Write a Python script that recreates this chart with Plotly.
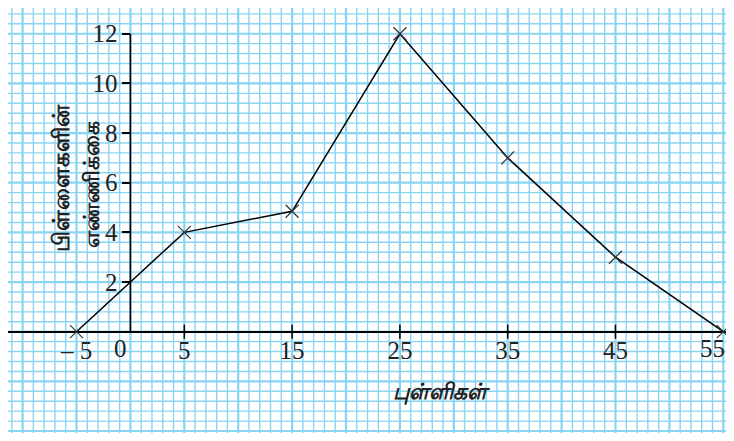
import numpy as np
import plotly.graph_objects as go

# Data
marks = [-5, 5, 15, 25, 35, 45, 55]
children = [0, 4, 4.85, 12, 7, 3, 0]
x_tick_vals = [-5, 5, 15, 25, 35, 45, 55]
x_tick_text = ["\u2013 5", "5", "15", "25", "35", "45", "55"]
y_tick_vals = [2, 4, 6, 8, 10, 12]
y_tick_text = ["2", "4", "6", "8", "10", "12"]
x_title = "புள்ளிகள்"
y_title_1 = "பிள்ளைகளின்"
y_title_2 = "எண்ணிக்கை"

# page has an 8px body margin: figure pixel = screen pixel - 8
OFF = 8
W, H = 734 - OFF, 441 - 2 * OFF
X0PX, XSCALE = 130.4, 10.78   # screen px of x=0, px per unit
Y0PX, YSCALE = 331.7, 24.83   # screen px of y=0, px per unit
x_range = [(OFF - X0PX) / XSCALE, (OFF + W - X0PX) / XSCALE]
y_range = [(Y0PX - (OFF + H)) / YSCALE, (Y0PX - OFF) / YSCALE]


def px(sx):
    return (sx - OFF) / W


def py(sy):
    return 1 - (sy - OFF) / H


grid_color = "#8ad4f3"
serif = "Liberation Serif"
tick_font = dict(family=serif, size=25, color="#222")

fig = go.Figure()

# graph-paper grid
shapes = []
for gx in np.arange(-11, 57, 1.0):
    thick = (int(gx) % 5 == 0)
    shapes.append(dict(type="line", xref="x", yref="paper", x0=gx, x1=gx, y0=0, y1=1,
                       line=dict(color=grid_color, width=2.2 if thick else 1.4), layer="below"))
for k in range(-10, 33):
    gy = k * 0.4
    thick = (k % 5 == 0)
    shapes.append(dict(type="line", xref="paper", yref="y", x0=0, x1=1, y0=gy, y1=gy,
                       line=dict(color=grid_color, width=2.2 if thick else 1.4), layer="below"))
# y axis segment
shapes.append(dict(type="line", xref="x", yref="y", x0=0, x1=0, y0=0, y1=max(y_tick_vals),
                   line=dict(color="black", width=1.6)))

fig.add_trace(go.Scatter(
    x=marks, y=children, mode="lines+markers",
    line=dict(color="black", width=1.5),
    marker=dict(symbol="x-thin-open", size=13, color="#333333",
                line=dict(color="#333333", width=1.2)),
    hoverinfo="skip", showlegend=False, cliponaxis=False,
))
# x tick marks crossing the axis
inner = x_tick_vals[1:-1]
fig.add_trace(go.Scatter(
    x=inner, y=[0] * len(inner), mode="markers",
    marker=dict(symbol="line-ns-open", size=10, color="black",
                line=dict(color="black", width=1.5)),
    hoverinfo="skip", showlegend=False,
))

fig.update_layout(
    width=W, height=H,
    margin=dict(l=0, r=0, t=0, b=0),
    paper_bgcolor="white", plot_bgcolor="white",
    shapes=shapes,
    xaxis=dict(range=x_range, showgrid=False, zeroline=False, showline=False,
               anchor="free", position=py(Y0PX),
               tickmode="array", tickvals=x_tick_vals[:-1], ticktext=x_tick_text[:-1],
               ticks="", ticklabelstandoff=1,
               tickfont=tick_font),
    yaxis=dict(range=y_range, showgrid=False, zeroline=True, zerolinecolor="black",
               zerolinewidth=1.6, showline=False,
               anchor="free", position=px(X0PX),
               tickmode="array", tickvals=y_tick_vals, ticktext=y_tick_text,
               ticks="outside", ticklen=8, tickwidth=1.5, tickcolor="black",
               ticklabelstandoff=0,
               tickfont=tick_font),
    annotations=[
        dict(text="0", x=0, y=0, xref="x", yref="y", xanchor="right", yanchor="top",
             xshift=-1, yshift=-1, showarrow=False, font=tick_font),
        # last x tick label sits left of its tick at the page edge
        dict(text=x_tick_text[-1], x=x_tick_vals[-1], y=0, xref="x", yref="y",
             xanchor="center", yanchor="top", xshift=-11, yshift=-1,
             showarrow=False, font=tick_font),
        dict(text=y_title_1, x=px(42), y=py(178), xref="paper", yref="paper",
             textangle=-90, showarrow=False,
             font=dict(size=23, color="#222", weight="bold")),
        dict(text=y_title_2, x=px(73), y=py(185), xref="paper", yref="paper",
             textangle=-90, showarrow=False,
             font=dict(size=22, color="#222", weight="bold")),
        dict(text=x_title, x=px(441), y=py(407), xref="paper", yref="paper",
             showarrow=False,
             font=dict(size=22, color="#222", weight="bold", style="italic")),
    ],
)

fig.write_html("out.html")
